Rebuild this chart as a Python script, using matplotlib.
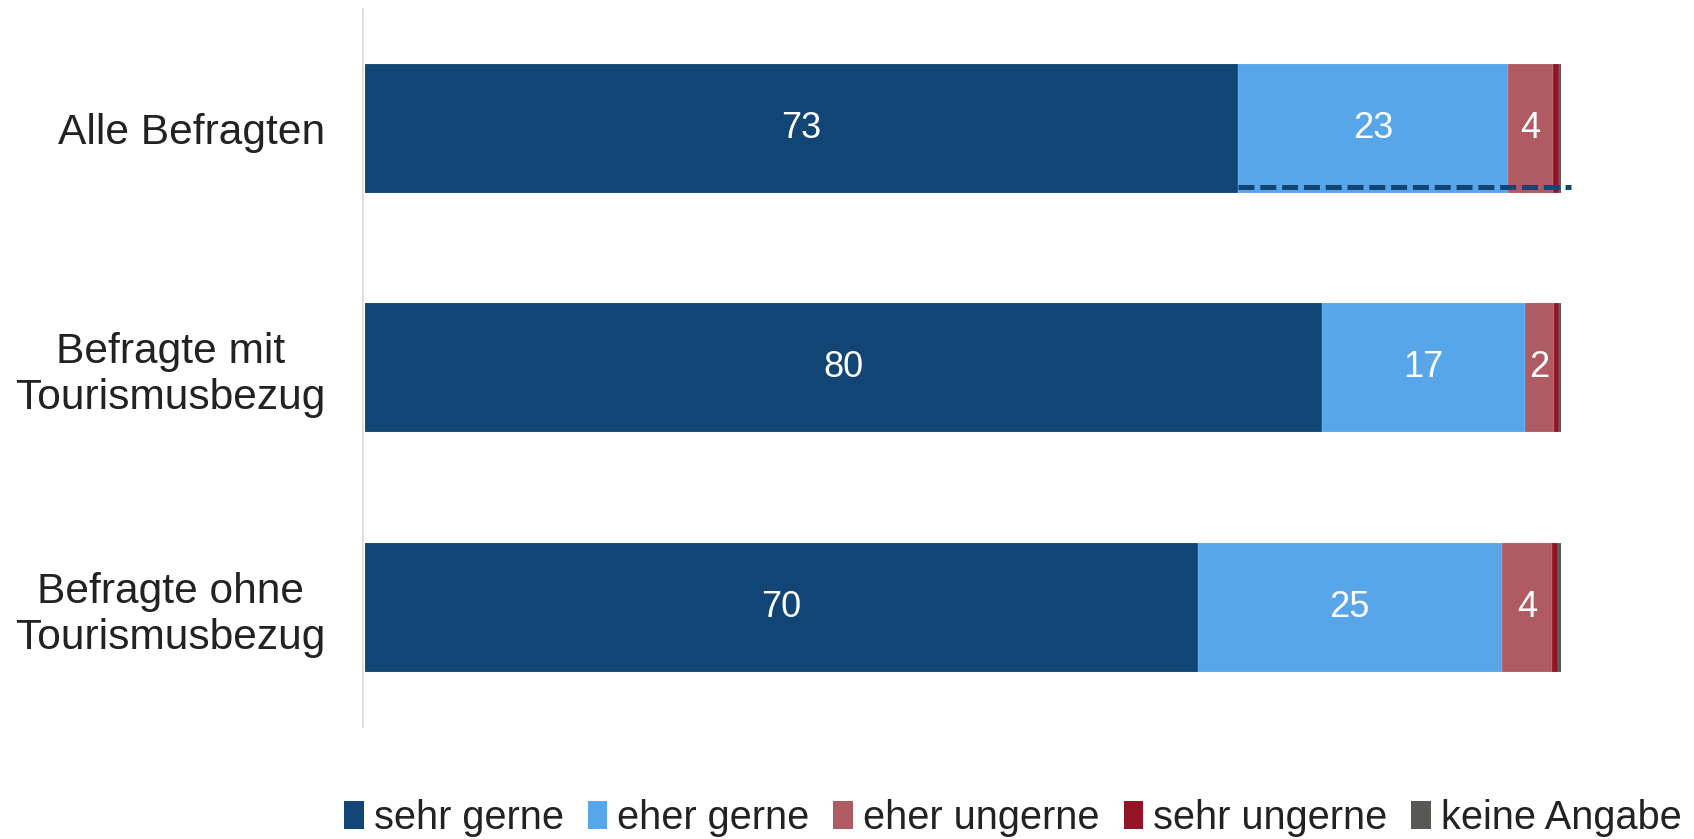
import matplotlib
matplotlib.use("Agg")
import matplotlib.pyplot as plt
from matplotlib.patches import Patch

plt.rcParams['font.family'] = ['Liberation Sans', 'DejaVu Sans']
plt.rcParams['lines.scale_dashes'] = False

categories = ["Alle Befragten", "Befragte mit\nTourismusbezug", "Befragte ohne\nTourismusbezug"]
series_names = ["sehr gerne", "eher gerne", "eher ungerne", "sehr ungerne", "keine Angabe"]
sehr_gerne = [72.97, 80.0, 69.62]
eher_gerne = [22.6, 17.0, 25.44]
eher_ungerne = [3.76, 2.42, 4.18]
sehr_ungerne = [0.50, 0.39, 0.53]
keine_angabe = [0.59, 0.42, 0.42]
colors = ["#104575", "#58A6EA", "#B05A63", "#921425", "#585954"]

# dashed reference line on first bar (x from, x to, y offset)
dash_x = [73.0, 100.84]
dash_y = 0.245

fig = plt.figure(figsize=(16.94, 8.39), dpi=100)
ax = fig.add_axes([365/1694, (839-727)/839, 1196/1694, (727-8.6)/839])

for s in ['top', 'right', 'bottom']:
    ax.spines[s].set_visible(False)
ax.spines['left'].set_position(('outward', 1.4))
ax.spines['left'].set_color('#d9d9d9')
ax.spines['left'].set_linewidth(1.2)

series = [sehr_gerne, eher_gerne, eher_ungerne, sehr_ungerne, keine_angabe]
ypos = list(range(len(categories)))
left = [0.0]*len(categories)
for name, vals, col in zip(series_names, series, colors):
    ax.barh(ypos, vals, left=left, height=0.54, color=col,
            edgecolor=(1, 1, 1, 0.3), linewidth=0.3, label=name)
    for i, v in enumerate(vals):
        if v >= 1.5:
            ax.text(left[i] + v/2, ypos[i], f"{round(v)}", ha='center', va='center',
                    color='white', fontsize=26)
    left = [l + v for l, v in zip(left, vals)]

ax.plot(dash_x, [dash_y, dash_y], color="#104575", lw=3.6, ls=(0, (11.5, 4.2)),
        clip_on=False, solid_capstyle='butt', dash_capstyle='butt')

ax.set_xlim(0, 100)
ax.set_ylim(2.5, -0.5)
ax.set_yticks(ypos)
ax.set_yticklabels(categories, fontsize=30.6, color='#222222', multialignment='center')
ax.tick_params(axis='y', length=0, pad=27)
ax.set_xticks([])

handles = [Patch(facecolor=c, edgecolor='none') for c in colors]
fig.legend(handles, series_names, loc='center', bbox_to_anchor=(1013/1694, 1 - 818/839),
           ncol=5, frameon=False, fontsize=28.6, handlelength=0.5, handleheight=0.7,
           handletextpad=0.25, columnspacing=0.6, labelcolor='#222222')

fig.savefig("out.png", dpi=100)
